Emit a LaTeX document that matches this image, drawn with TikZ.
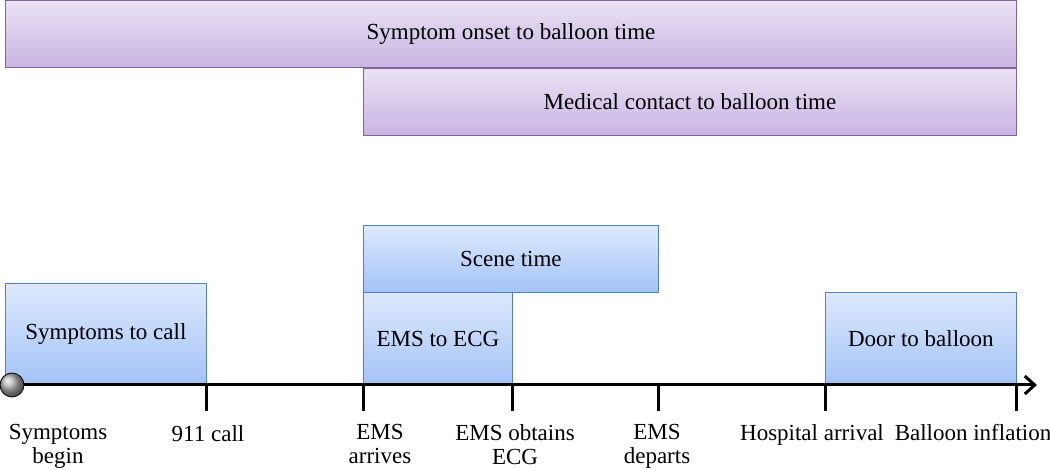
\documentclass[tikz,border=0pt]{standalone}
\usepackage{fontspec}
\setmainfont{Liberation Serif}
\usetikzlibrary{positioning,arrows.meta}

\definecolor{purpletop}{HTML}{EAE2F4}
\definecolor{purplebot}{HTML}{C8B4E2}
\definecolor{purpleline}{HTML}{8064A2}
\definecolor{bluetop}{HTML}{DDE9FC}
\definecolor{bluebot}{HTML}{A3C3F7}
\definecolor{blueline}{HTML}{4F81BD}

\tikzset{
  spanbar/.style={draw=purpleline, line width=1pt, top color=purpletop,
    bottom color=purplebot, anchor=north west, inner sep=0pt,
    minimum height=67pt},
  phasebox/.style={draw=blueline, line width=0.8pt, top color=bluetop,
    bottom color=bluebot, anchor=north west, inner sep=0pt},
  event/.style={anchor=north, align=center, inner sep=0pt},
  tick/.style={line width=3pt}
}

\begin{document}
\begin{tikzpicture}[x=1pt,y=-1pt,font=\fontsize{23}{24}\selectfont]
\useasboundingbox (0,0) rectangle (1050,470);

% spans at the top
\node[spanbar, minimum width=1011pt] (onset) at (5,0) {Symptom onset to balloon time};
\node[spanbar, minimum width=653pt] (contact) at (363,68) {Medical contact to balloon time};

% phase boxes
\node[phasebox, minimum width=201pt, minimum height=102pt] (call) at (5,283) {Symptoms to call};
\node[phasebox, minimum width=295pt, minimum height=67pt] (scene) at (363,225) {Scene time};
\node[phasebox, minimum width=149pt, minimum height=93pt] (ecg) at (363,292) {EMS to ECG};
\node[phasebox, minimum width=191pt, minimum height=93pt] (door) at (825,292) {Door to balloon};

% time axis
\node[circle, draw=black, line width=0.8pt, minimum size=24pt, inner sep=0pt,
  ball color=gray!60] (start) at (12,385) {};
\coordinate (axisend) at (1037,385);
\draw[line width=3pt, -{Straight Barb[length=10pt,width=18pt,line width=3pt]}] (start) -- (axisend);

\foreach \x/\n in {206/a,363/b,512/c,658/d,825/e,1016/f}
  \draw[tick] (\x,385) coordinate (t\n) -- (\x,411);

% events
\node[event] (begin) at (58,424) {Symptoms\\begin};
\node[event] (dial) at (208,425) {911 call};
\node[event] (arrive) at (380,424) {EMS\\arrives};
\node[event] (obtain) at (515,424) {EMS obtains\\ECG};
\node[event] (depart) at (657,424) {EMS\\departs};
\node[event] (hosp) at (812,424) {Hospital arrival};
\node[event] (infl) at (973,424) {Balloon inflation};
\end{tikzpicture}
\end{document}
